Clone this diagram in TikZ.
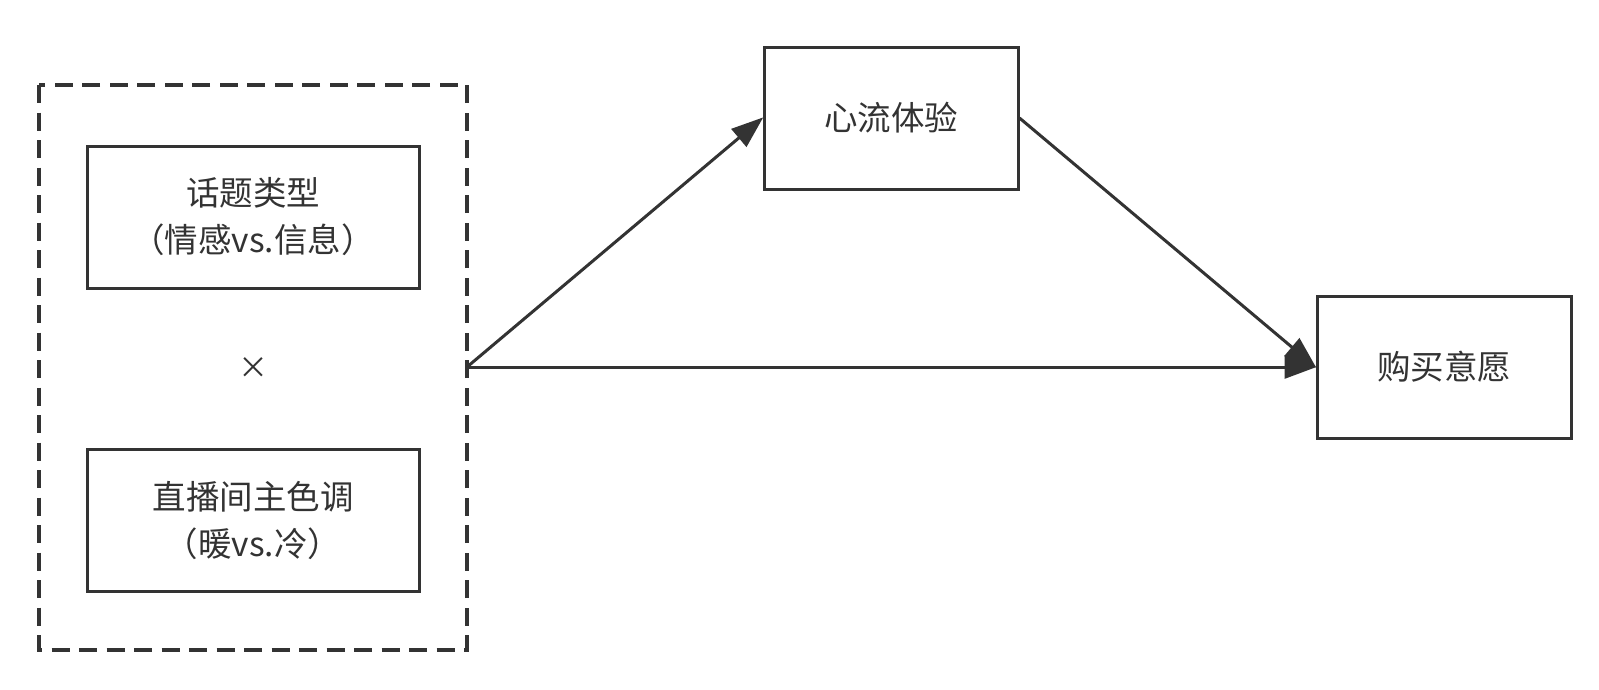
\documentclass[tikz,border=0pt]{standalone}
\usepackage{fontspec}
\setmainfont{Noto Sans CJK SC}
\usetikzlibrary{arrows.meta}
\definecolor{ink}{HTML}{333333}
\tikzset{
  box/.style={draw=ink, line width=3pt, minimum width=#1, minimum height=142pt, inner sep=0pt, align=center, text=ink, font=\fontsize{33.5}{47}\selectfont},
  box/.default=332pt,
  conn/.style={draw=ink, line width=3pt, -{Triangle[length=32pt,width=23pt]}, shorten >=-1pt},
}
\begin{document}
\begin{tikzpicture}[x=1pt,y=-1pt]
\useasboundingbox (0,0) rectangle (1599,689);
\draw[ink, line width=3.6pt, dash pattern=on 18pt off 9.5pt] (39,85) rectangle (467,650);
\node[box] (topic) at (253,217) {话题类型\\（情感vs.信息）};
\node[box] (color) at (253,520) {直播间主色调\\（暖vs.冷）};
\node[text=ink, font=\fontsize{30}{30}\selectfont] (times) at (253,368) {×};
\coordinate (src) at (467,367);
\node[box=254pt] (flow) at (891,118) {心流体验};
\node[box=254pt] (buy) at (1444,367) {购买意愿};
\draw[conn] (src) -- (flow.west);
\draw[conn] (src) -- (buy.west);
\draw[conn] (flow.east) -- (buy.west);
\end{tikzpicture}
\end{document}
